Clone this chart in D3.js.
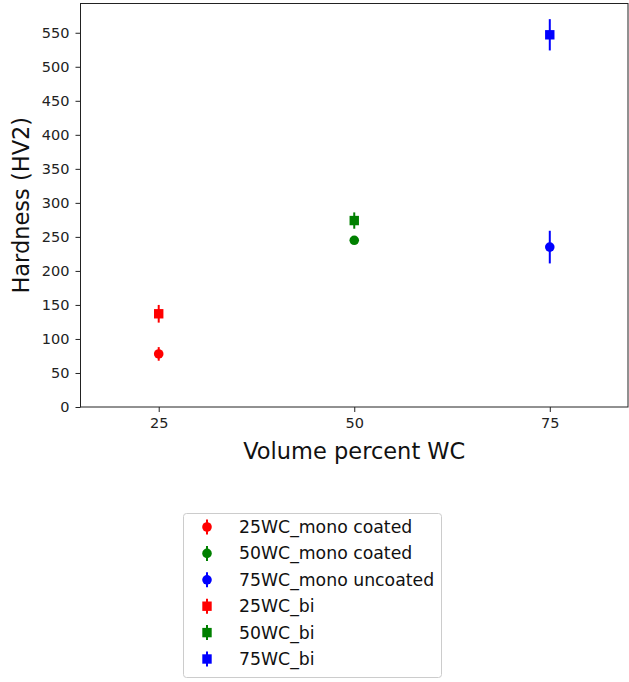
<!DOCTYPE html>
<html>
<head>
<meta charset="utf-8">
<script src="https://cdn.jsdelivr.net/npm/d3@7"></script>
<style>
  body { margin: 0; background: #fff; }
  svg { display: block; font-family: "DejaVu Sans", sans-serif; }
</style>
</head>
<body>
<div id="chart"></div>
<script>
// series, in legend order
const seriesNames = ["25WC_mono coated", "50WC_mono coated", "75WC_mono uncoated",
                     "25WC_bi", "50WC_bi", "75WC_bi"];
const volumePercent = [25, 50, 75, 25, 50, 75];
const hardness = [78, 245, 235, 137, 274, 547];
const hardnessErr = [10, 5, 24, 13, 12, 23];
const markerShapes = ["circle", "circle", "circle", "square", "square", "square"];
const seriesColors = ["#ff0000", "#008000", "#0000ff", "#ff0000", "#008000", "#0000ff"];
const xTicks = [25, 50, 75];
const yTicks = d3.range(0, 551, 50);

const width = 629, height = 682;
const margin = { left: 80.5, right: 1, top: 3.5, bottom: 275 };
const plotW = width - margin.left - margin.right;
const plotH = height - margin.top - margin.bottom;

const svg = d3.select("#chart").append("svg")
    .attr("width", width)
    .attr("height", height);

const x = d3.scaleLinear().domain([15, 85]).range([margin.left, margin.left + plotW]);
const y = d3.scaleLinear().domain([0, 593]).range([margin.top + plotH, margin.top]);

const points = seriesNames.map((name, i) => ({
    name, x: volumePercent[i], y: hardness[i], err: hardnessErr[i],
    shape: markerShapes[i], color: seriesColors[i]
}));

// axes
const xAxis = svg.append("g")
    .attr("transform", `translate(0,${margin.top + plotH})`)
    .call(d3.axisBottom(x).tickValues(xTicks).tickSize(5).tickPadding(6));
const yAxis = svg.append("g")
    .attr("transform", `translate(${margin.left},0)`)
    .call(d3.axisLeft(y).tickValues(yTicks).tickSize(5).tickPadding(6));

[xAxis, yAxis].forEach(g => {
    g.select(".domain").remove();
    g.selectAll("text").attr("font-size", "14.5px").attr("fill", "#222")
        .attr("font-family", "DejaVu Sans");
    g.selectAll("line").attr("stroke", "#222").attr("stroke-width", 1);
});

svg.append("rect")
    .attr("x", margin.left)
    .attr("y", margin.top)
    .attr("width", plotW)
    .attr("height", plotH)
    .attr("fill", "none")
    .attr("stroke", "#222")
    .attr("stroke-width", 1);

// axis labels
svg.append("text")
    .attr("x", x(50))
    .attr("y", 459)
    .attr("text-anchor", "middle")
    .attr("font-size", "22.5px")
    .attr("fill", "#111")
    .text("Volume percent WC");

svg.append("text")
    .attr("transform", `translate(29,${margin.top + plotH / 2}) rotate(-90)`)
    .attr("text-anchor", "middle")
    .attr("font-size", "22.5px")
    .attr("fill", "#111")
    .text("Hardness (HV2)");

function drawMarker(g, d, cx, cy, errPx) {
    g.append("line")
        .attr("x1", cx).attr("x2", cx)
        .attr("y1", cy - errPx).attr("y2", cy + errPx)
        .attr("stroke", d.color)
        .attr("stroke-width", 2);
    if (d.shape === "circle") {
        g.append("circle")
            .attr("cx", cx).attr("cy", cy).attr("r", 4.8)
            .attr("fill", d.color);
    } else {
        g.append("rect")
            .attr("x", cx - 4.7).attr("y", cy - 4.7)
            .attr("width", 9.4).attr("height", 9.4)
            .attr("fill", d.color);
    }
}

// data points with error bars
const marks = svg.append("g");
points.forEach(d => {
    const cx = x(d.x), cy = y(d.y);
    const errPx = y(d.y - d.err) - cy;
    drawMarker(marks.append("g"), d, cx, cy, errPx);
});

// legend
const legend = svg.append("g").attr("transform", "translate(183,513)");
legend.append("rect")
    .attr("x", 0.5).attr("y", 0.5)
    .attr("width", 258).attr("height", 164)
    .attr("rx", 3)
    .attr("fill", "#fff")
    .attr("stroke", "#cccccc");

points.forEach((d, i) => {
    const row = legend.append("g").attr("transform", `translate(0,${14 + i * 26.4})`);
    drawMarker(row, d, 24, 0, 7.5);
    row.append("text")
        .attr("x", 56)
        .attr("y", 6)
        .attr("font-size", "17.3px")
        .attr("fill", "#111")
        .text(d.name);
});
</script>
</body>
</html>
